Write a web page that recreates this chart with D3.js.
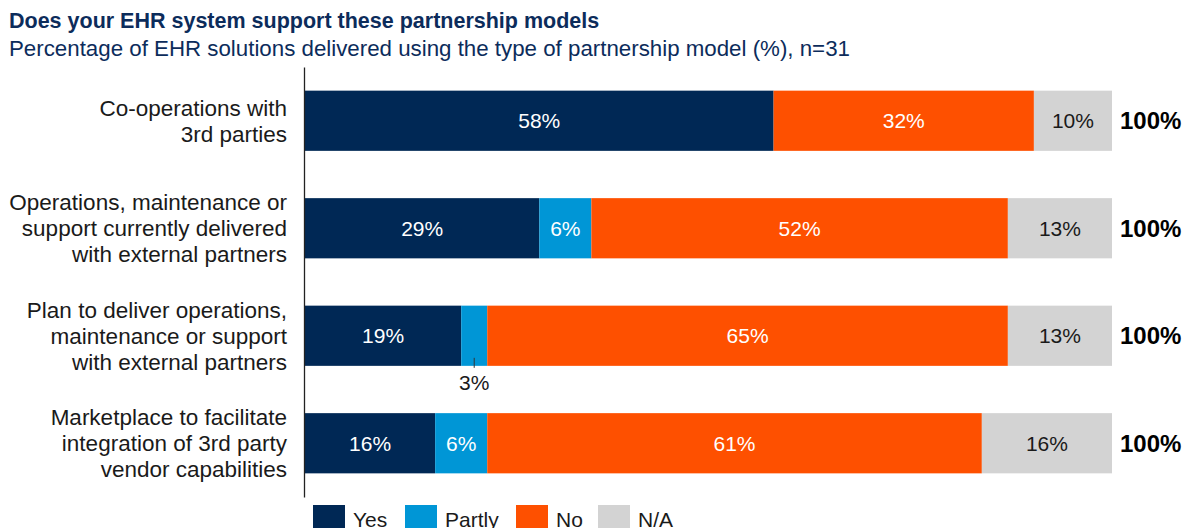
<!DOCTYPE html>
<html>
<head>
<meta charset="utf-8">
<script src="https://cdn.jsdelivr.net/npm/d3@7"></script>
<style>
  html, body { margin: 0; padding: 0; background: #fff; overflow: hidden; }
  svg { display: block; font-family: "Liberation Sans", Arial, sans-serif; }
</style>
</head>
<body>
<svg id="chart" width="1189" height="528"></svg>
<script>
// Survey categories (each shown on up to three lines)
const categories = [
  ["Co-operations with", "3rd parties"],
  ["Operations, maintenance or", "support currently delivered", "with external partners"],
  ["Plan to deliver operations,", "maintenance or support", "with external partners"],
  ["Marketplace to facilitate", "integration of 3rd party", "vendor capabilities"]
];
const respondents = 31;
const seriesNames = ["Yes", "Partly", "No", "N/A"];
// Number of EHR solutions answering each option (out of 31)
const yesCounts    = [18, 9, 6, 5];
const partlyCounts = [0, 2, 1, 2];
const noCounts     = [10, 16, 20, 19];
const naCounts     = [3, 4, 4, 5];
const totalLabels  = ["100%", "100%", "100%", "100%"];
const seriesColors = ["#002855", "#0096d6", "#fe5000", "#d3d3d3"];
const labelColors  = ["#ffffff", "#ffffff", "#ffffff", "#1a1a1a"];

const pct = c => c / respondents * 100;
const rows = categories.map((c, i) => ({
  Yes: pct(yesCounts[i]), Partly: pct(partlyCounts[i]),
  No: pct(noCounts[i]), "N/A": pct(naCounts[i])
}));

const svg = d3.select("#chart");
const navy = "#0c2c5b";

// Titles
svg.append("text").attr("x", 9).attr("y", 28)
  .attr("font-size", 21.5).attr("font-weight", "bold").attr("fill", navy)
  .text("Does your EHR system support these partnership models");
svg.append("text").attr("x", 9).attr("y", 56)
  .attr("font-size", 22.3).attr("fill", navy)
  .text("Percentage of EHR solutions delivered using the type of partnership model (%), n=31");

const x = d3.scaleLinear().domain([0, 100]).range([305, 1112]);
const y = d3.scaleBand().domain(d3.range(categories.length))
  .range([67, 497]).paddingInner(0.44).paddingOuter(0.22);

const stack = d3.stack().keys(seriesNames)(rows);

const layers = svg.append("g").selectAll("g").data(stack).join("g")
  .attr("fill", (d, i) => seriesColors[i]);

layers.selectAll("rect").data(d => d).join("rect")
  .attr("x", d => x(d[0]))
  .attr("y", (d, j) => y(j))
  .attr("width", d => x(d[1]) - x(d[0]))
  .attr("height", y.bandwidth());

// Segment value labels
stack.forEach((layer, si) => {
  layer.forEach((d, j) => {
    const v = d[1] - d[0];
    if (v === 0) return;
    const label = Math.round(v) + "%";
    const cx = (x(d[0]) + x(d[1])) / 2;
    const cy = y(j) + y.bandwidth() / 2;
    if (v < 5) {
      // Narrow segment: label below the bar with a leader tick
      svg.append("line")
        .attr("x1", cx).attr("x2", cx)
        .attr("y1", y(j) + y.bandwidth() - 8).attr("y2", y(j) + y.bandwidth() + 2)
        .attr("stroke", "#333").attr("stroke-width", 1);
      svg.append("text").attr("x", cx).attr("y", y(j) + y.bandwidth() + 24)
        .attr("text-anchor", "middle").attr("font-size", 21).attr("fill", "#1a1a1a")
        .text(label);
    } else {
      svg.append("text").attr("x", cx).attr("y", cy).attr("dy", "0.35em")
        .attr("text-anchor", "middle").attr("font-size", 21)
        .attr("fill", labelColors[si])
        .text(label);
    }
  });
});

// Totals
svg.append("g").selectAll("text").data(totalLabels).join("text")
  .attr("x", 1120).attr("y", (d, i) => y(i) + y.bandwidth() / 2).attr("dy", "0.35em")
  .attr("font-size", 24).attr("font-weight", "bold").attr("fill", "#000")
  .text(d => d);

// Category axis
const yAxis = svg.append("g").attr("transform", "translate(304,0)")
  .call(d3.axisLeft(y).tickSize(0).tickFormat(""));
yAxis.select(".domain").attr("stroke", "#222").attr("stroke-width", 1.3);

const lineH = 26;
categories.forEach((lines, i) => {
  const cy = y(i) + y.bandwidth() / 2;
  const t = svg.append("text").attr("text-anchor", "end")
    .attr("font-size", 22.5).attr("fill", "#1a1a1a");
  lines.forEach((ln, k) => {
    t.append("tspan").attr("x", 287)
      .attr("y", cy + (k - (lines.length - 1) / 2) * lineH)
      .attr("dy", "0.35em").text(ln);
  });
});

// Legend
const legendX = [313, 405, 516, 598];
const legend = svg.append("g").selectAll("g").data(seriesNames).join("g")
  .attr("transform", (d, i) => `translate(${legendX[i]},505)`);
legend.append("rect").attr("width", 32).attr("height", 26)
  .attr("fill", (d, i) => seriesColors[i]);
legend.append("text").attr("x", 40).attr("y", 22)
  .attr("font-size", 21).attr("fill", "#1a1a1a").text(d => d);
</script>
</body>
</html>
